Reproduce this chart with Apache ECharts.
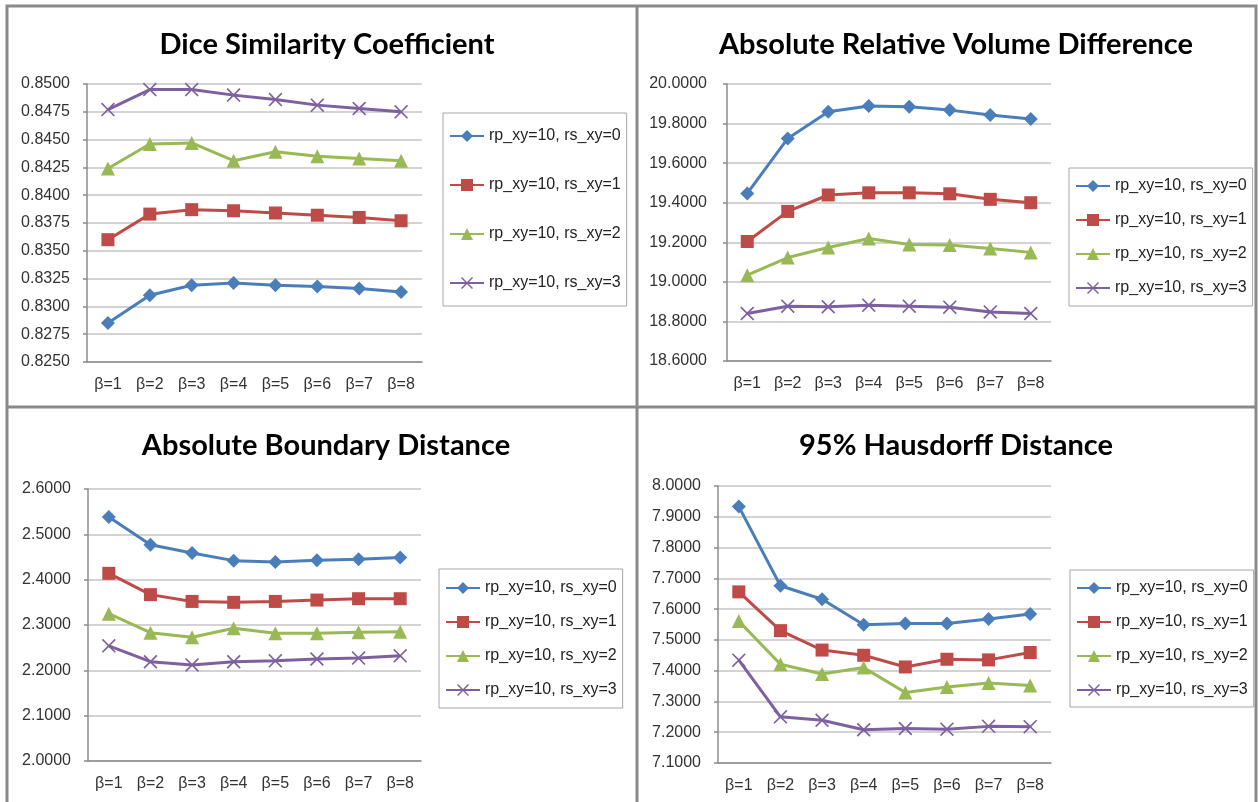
<!DOCTYPE html>
<html>
<head>
<meta charset="utf-8">
<script src="https://cdn.jsdelivr.net/npm/echarts@6/dist/echarts.min.js"></script>
<style>
html,body{margin:0;padding:0;background:#fff;}
#chart{width:1258px;height:802px;}
</style>
</head>
<body>
<div id="chart"></div>
<script>
var categories = ['β=1','β=2','β=3','β=4','β=5','β=6','β=7','β=8'];
var seriesNames = ['rp_xy=10, rs_xy=0','rp_xy=10, rs_xy=1','rp_xy=10, rs_xy=2','rp_xy=10, rs_xy=3'];
var panelTitles = ['Dice Similarity Coefficient','Absolute Relative Volume Difference','Absolute Boundary Distance','95% Hausdorff Distance'];

// Dice Similarity Coefficient
var dsc0 = [0.8285,0.8310,0.8319,0.8321,0.8319,0.8318,0.8316,0.8313];
var dsc1 = [0.8360,0.8383,0.8387,0.8386,0.8384,0.8382,0.8380,0.8377];
var dsc2 = [0.8424,0.8446,0.8447,0.8431,0.8439,0.8435,0.8433,0.8431];
var dsc3 = [0.8477,0.8495,0.8495,0.8490,0.8486,0.8481,0.8478,0.8475];
// Absolute Relative Volume Difference
var arvd0 = [19.447,19.725,19.860,19.889,19.885,19.868,19.843,19.823];
var arvd1 = [19.204,19.356,19.439,19.450,19.450,19.445,19.417,19.400];
var arvd2 = [19.034,19.123,19.174,19.219,19.189,19.186,19.169,19.149];
var arvd3 = [18.840,18.877,18.874,18.882,18.877,18.872,18.848,18.840];
// Absolute Boundary Distance
var abd0 = [2.538,2.477,2.459,2.442,2.439,2.443,2.445,2.449];
var abd1 = [2.414,2.367,2.352,2.350,2.352,2.355,2.358,2.358];
var abd2 = [2.325,2.283,2.273,2.293,2.282,2.282,2.284,2.285];
var abd3 = [2.254,2.219,2.212,2.219,2.221,2.225,2.227,2.232];
// 95% Hausdorff Distance
var hd0 = [7.933,7.676,7.632,7.549,7.553,7.553,7.568,7.584];
var hd1 = [7.656,7.530,7.467,7.450,7.412,7.437,7.435,7.459];
var hd2 = [7.561,7.421,7.389,7.410,7.329,7.347,7.360,7.352];
var hd3 = [7.434,7.250,7.239,7.208,7.212,7.210,7.219,7.218];

var yMins = [0.825, 18.6, 2.0, 7.1];
var yMaxs = [0.85, 20.0, 2.6, 8.0];
var yIntervals = [0.0025, 0.2, 0.1, 0.1];

var panelData = [[dsc0,dsc1,dsc2,dsc3],[arvd0,arvd1,arvd2,arvd3],[abd0,abd1,abd2,abd3],[hd0,hd1,hd2,hd3]];

var colors = ['#4A7EBB','#BE4B48','#98B954','#7D60A0'];
var xPath = 'path://M1,0 L6,5 L11,0 L12,1 L7,6 L12,11 L11,12 L6,7 L1,12 L0,11 L5,6 L0,1 Z';
var symbols = ['diamond','rect','triangle',xPath];
var symbolSizes = [14,13,14,14];

var grids = [
  {left:87, top:84, width:335, height:278},
  {left:727, top:84, width:324, height:277},
  {left:88, top:489, width:333, height:272},
  {left:718, top:486, width:333, height:277}
];
var titlePos = [[322,25],[951,25],[321,426],[951,426]];
var legendPos = [
  {left:443, top:113, padding:[15,6,15,6], itemGap:33},
  {left:1069, top:168, padding:[10,6,10,6], itemGap:18},
  {left:439, top:569, padding:[11,6,10,6], itemGap:18},
  {left:1070, top:570, padding:[10,6,9,6], itemGap:18}
];

var fontFam = 'Liberation Sans, Arial, sans-serif';
var option = {
  animation:false,
  backgroundColor:'#fff',
  title: panelTitles.map(function(t,i){
    return {text:t, left:titlePos[i][0], top:titlePos[i][1], textAlign:'center',
      textStyle:{fontFamily:'Lato, sans-serif', fontWeight:'bold', fontSize:29, color:'#000'}};
  }),
  grid: grids,
  legend: legendPos.map(function(l,i){
    return {data:seriesNames, orient:'vertical', left:l.left, top:l.top, padding:l.padding, itemGap:l.itemGap,
      itemWidth:34, itemHeight:15, borderColor:'#a6a6a6', borderWidth:1, selectedMode:false,
      textStyle:{fontFamily:fontFam, fontSize:16, color:'#222'}};
  }),
  xAxis: grids.map(function(g,i){
    return {type:'category', gridIndex:i, data:categories, boundaryGap:true,
      axisLine:{lineStyle:{color:'#8c8c8c', width:1.5}},
      axisTick:{length:5, lineStyle:{color:'#8c8c8c', width:1.5}},
      axisLabel:{fontFamily:fontFam, fontSize:16, color:'#333', margin:15}};
  }),
  yAxis: grids.map(function(g,i){
    return {type:'value', gridIndex:i, min:yMins[i], max:yMaxs[i], interval:yIntervals[i],
      axisLine:{show:true, lineStyle:{color:'#8c8c8c', width:1.5}},
      axisTick:{show:true, length:4, lineStyle:{color:'#8c8c8c', width:1.5}},
      splitLine:{lineStyle:{color:'#c4c4c4', width:1.5}},
      axisLabel:{fontFamily:fontFam, fontSize:16, color:'#333', margin:(i===1?20:17),
        formatter:function(v){return v.toFixed(4);}}};
  }),
  series: [],
  graphic: [
    {type:'rect', shape:{x:7, y:6, width:1249, height:820}, style:{fill:'none', stroke:'#8a8a8a', lineWidth:3}, silent:true},
    {type:'line', shape:{x1:637, y1:6, x2:637, y2:802}, style:{stroke:'#8a8a8a', lineWidth:3}, silent:true},
    {type:'line', shape:{x1:7, y1:407, x2:1256, y2:407}, style:{stroke:'#8a8a8a', lineWidth:3}, silent:true}
  ]
};
panelData.forEach(function(arrs,p){
  arrs.forEach(function(vals,s){
    option.series.push({
      type:'line', name:seriesNames[s], xAxisIndex:p, yAxisIndex:p, data:vals,
      symbol:symbols[s], symbolSize:symbolSizes[s], showAllSymbol:true,
      lineStyle:{color:colors[s], width:3},
      itemStyle:{color:colors[s]}
    });
  });
});
var chart = echarts.init(document.getElementById('chart'), null, {renderer:'canvas'});
chart.setOption(option);
</script>
</body>
</html>
